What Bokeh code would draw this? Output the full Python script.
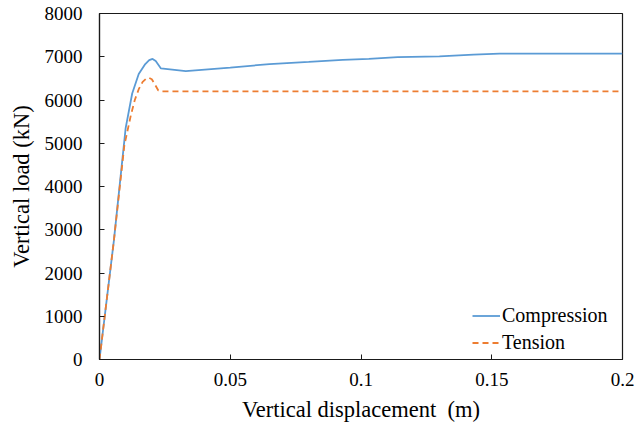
from bokeh.plotting import figure
from bokeh.models import ColumnDataSource, FixedTicker, Legend, LegendItem, Range1d
from bokeh.embed import file_html
from bokeh.resources import INLINE

# Load-displacement curves (displacement in m, load in kN)
comp_disp = [0, 0.0055, 0.0100, 0.0125, 0.0150, 0.0175, 0.0190, 0.0203, 0.0215, 0.0235,
             0.0330, 0.0500, 0.0650, 0.0800, 0.0930, 0.1030, 0.1140, 0.1300, 0.1430,
             0.1530, 0.2000]
comp_load = [0, 2750, 5350, 6150, 6600, 6830, 6920, 6950, 6900, 6730,
             6670, 6750, 6830, 6880, 6930, 6950, 6990, 7010, 7050,
             7070, 7070]

tens_disp = [0, 0.0055, 0.0095, 0.0120, 0.0135, 0.0150, 0.0165, 0.0180, 0.0190,
             0.0200, 0.0210, 0.0225, 0.0240, 0.2000]
tens_load = [0, 2750, 4950, 5650, 6000, 6250, 6420, 6500, 6510,
             6480, 6380, 6220, 6200, 6200]

x_ticks = [0, 0.05, 0.1, 0.15, 0.2]
x_tick_labels = ["0", "0.05", "0.1", "0.15", "0.2"]
y_ticks = [0, 1000, 2000, 3000, 4000, 5000, 6000, 7000, 8000]

FONT = "Liberation Serif"

p = figure(width=635, height=434, output_backend="svg", toolbar_location=None,
           x_range=Range1d(0, 0.2), y_range=Range1d(0, 8000),
           min_border_left=99, min_border_right=13, min_border_top=13,
           min_border_bottom=75)

p.grid.visible = False
p.outline_line_color = "#1a1a1a"
p.outline_line_width = 1.2
p.background_fill_color = "white"
p.border_fill_color = "white"

src_c = ColumnDataSource(dict(x=comp_disp, y=comp_load))
src_t = ColumnDataSource(dict(x=tens_disp, y=tens_load))

r_c = p.line("x", "y", source=src_c, line_color="#5B9BD5", line_width=1.8)
r_t = p.line("x", "y", source=src_t, line_color="#ED7D31", line_width=1.8,
             line_dash="6 4")

for ax in (p.xaxis[0], p.yaxis[0]):
    ax.axis_line_color = "#1a1a1a"
    ax.axis_line_width = 1.2
    ax.major_tick_line_color = "#1a1a1a"
    ax.major_tick_in = 5
    ax.major_tick_out = 0
    ax.minor_tick_line_color = None
    ax.major_label_text_font = FONT
    ax.major_label_text_font_size = "19px"
    ax.major_label_text_color = "black"
    ax.axis_label_text_font = FONT
    ax.axis_label_text_font_size = "22.5px"
    ax.axis_label_text_font_style = "normal"
    ax.axis_label_text_color = "black"

p.xaxis[0].ticker = FixedTicker(ticks=x_ticks)
p.xaxis[0].major_label_overrides = {t: s for t, s in zip(x_ticks, x_tick_labels)}
p.xaxis[0].major_label_standoff = 13
p.xaxis[0].axis_label = "Vertical displacement\u00a0 (m)"
p.xaxis[0].axis_label_standoff = 8

p.yaxis[0].ticker = FixedTicker(ticks=y_ticks)
p.yaxis[0].major_label_standoff = 17
p.yaxis[0].axis_label = "Vertical load (kN)"
p.yaxis[0].axis_label_standoff = 8

legend = Legend(items=[LegendItem(label="Compression", renderers=[r_c]),
                       LegendItem(label="Tension", renderers=[r_t])],
                location=(373, 3), border_line_color=None,
                background_fill_alpha=0, padding=0, margin=0, spacing=0,
                glyph_width=28, glyph_height=27, label_height=27,
                label_standoff=2, label_text_font=FONT,
                label_text_font_size="20px", label_text_color="black")
p.add_layout(legend, "center")

open("out.html", "w").write(file_html(p, INLINE))
